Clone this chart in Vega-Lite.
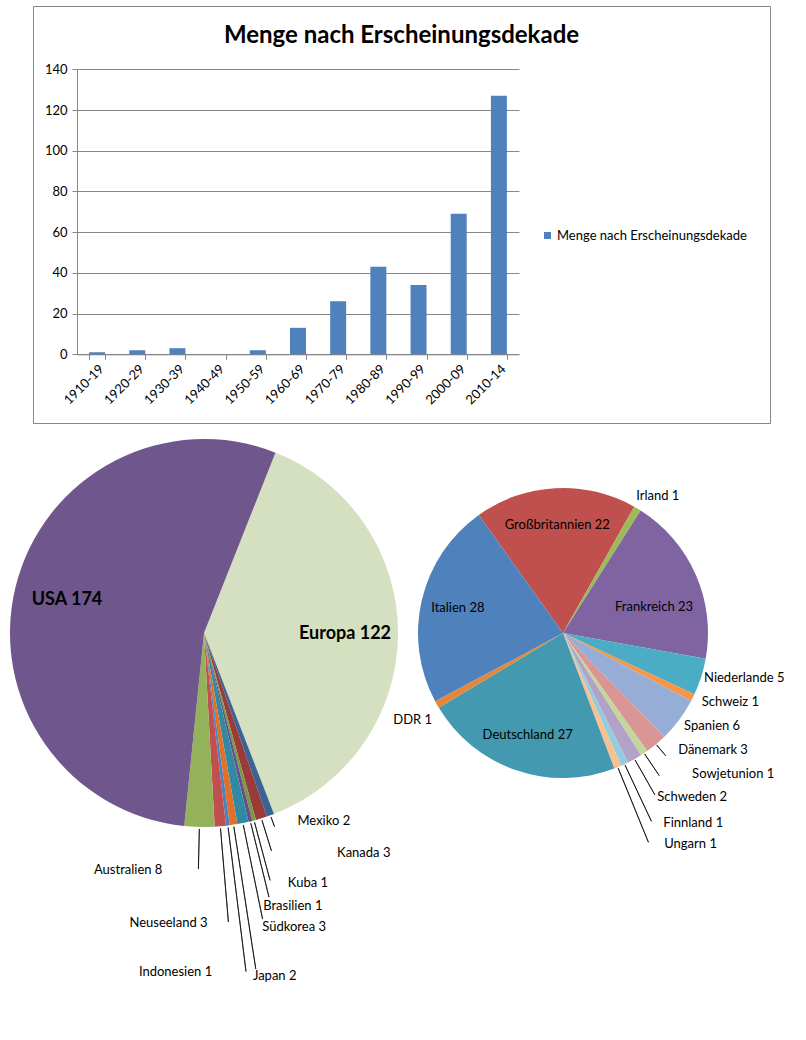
{
  "$schema": "https://vega.github.io/schema/vega-lite/v6.json",
  "padding": {"left": 10, "top": 5, "right": 0, "bottom": 0},
  "background": "white",
  "bounds": "flush",
  "spacing": 10,
  "resolve": {"scale": {"color": "independent", "theta": "independent"}},
  "config": {
    "font": "Lato",
    "view": {"stroke": null},
    "axis": {"labelFont": "Lato", "labelColor": "#000000", "labelFontSize": 12.5, "domainColor": "#868686", "tickColor": "#868686", "gridColor": "#868686", "gridOpacity": 1, "title": null},
    "text": {"font": "Lato", "color": "#000000", "fontSize": 13}
  },
  "vconcat": [
    {
      "width": 737,
      "height": 417,
      "view": {"stroke": "#868686", "strokeWidth": 1},
      "title": {"text": "Menge nach Erscheinungsdekade", "fontSize": 24, "fontWeight": "bold", "font": "Lato", "color": "#000000", "anchor": "middle", "frame": "group", "offset": -42},
      "data": {"values": [
        {"Dekade": "1910-19", "Menge": 1},
        {"Dekade": "1920-29", "Menge": 2},
        {"Dekade": "1930-39", "Menge": 3},
        {"Dekade": "1940-49", "Menge": 0},
        {"Dekade": "1950-59", "Menge": 2},
        {"Dekade": "1960-69", "Menge": 13},
        {"Dekade": "1970-79", "Menge": 26},
        {"Dekade": "1980-89", "Menge": 43},
        {"Dekade": "1990-99", "Menge": 34},
        {"Dekade": "2000-09", "Menge": 69},
        {"Dekade": "2010-14", "Menge": 127}
      ]},
      "mark": {"type": "bar"},
      "encoding": {
        "x": {"field": "Dekade", "type": "nominal", "sort": null,
          "scale": {"range": [44, 486], "paddingInner": 0.602, "paddingOuter": 0.301},
          "axis": {"orient": "bottom", "offset": -68.7, "labelAngle": -45, "tickBand": "extent", "tickSize": 5, "grid": false, "labelPadding": 3, "labelFontSize": 13}},
        "y": {"field": "Menge", "type": "quantitative",
          "scale": {"domain": [0, 140], "range": [348.3, 63.3], "nice": false},
          "axis": {"orient": "left", "offset": -44, "values": [0, 20, 40, 60, 80, 100, 120, 140], "grid": true, "tickSize": 5, "labelPadding": 5, "labelFontSize": 13}},
        "color": {"datum": "Menge nach Erscheinungsdekade", "type": "nominal",
          "scale": {"range": ["#4F81BD"]},
          "legend": {"orient": "none", "legendX": 508, "legendY": 223, "title": null, "symbolType": "square", "symbolSize": 49, "labelFontSize": 13, "labelFont": "Lato", "labelColor": "#000000", "labelLimit": 400, "padding": 0, "labelOffset": 3}}
      }
    },
    {
      "hconcat": [
        {
          "width": 342,
          "height": 400,
          "data": {"values": [
            {"Land": "Europa", "Anzahl": 122},
            {"Land": "Mexiko", "Anzahl": 2},
            {"Land": "Kanada", "Anzahl": 3},
            {"Land": "Kuba", "Anzahl": 1},
            {"Land": "Brasilien", "Anzahl": 1},
            {"Land": "Südkorea", "Anzahl": 3},
            {"Land": "Japan", "Anzahl": 2},
            {"Land": "Indonesien", "Anzahl": 1},
            {"Land": "Neuseeland", "Anzahl": 3},
            {"Land": "Australien", "Anzahl": 8},
            {"Land": "USA", "Anzahl": 174}
          ]},
          "transform": [
            {"window": [{"op": "row_number", "as": "nr"}]},
            {"stack": "Anzahl", "groupby": [], "sort": [{"field": "nr", "order": "ascending"}], "as": ["s0", "s1"]},
            {"calculate": "(datum.s0 + datum.s1) / 2", "as": "mitte"},
            {"calculate": "datum.mitte + 0.02", "as": "mitte2"},
            {"calculate": "datum.Land + ' ' + datum.Anzahl", "as": "Label"}
          ],
          "layer": [
            {"mark": {"type": "arc", "outerRadius": 194},
             "encoding": {
               "theta": {"field": "Anzahl", "type": "quantitative", "stack": true, "scale": {"range": [0.377, 6.6602], "zero": true, "nice": false}},
               "order": {"field": "nr", "type": "quantitative"},
               "color": {"field": "Land", "type": "nominal", "legend": null,
               "scale": {"domain": ["Europa", "Mexiko", "Kanada", "Kuba", "Brasilien", "Südkorea", "Japan", "Indonesien", "Neuseeland", "Australien", "USA"],
                         "range": ["#D4E0BF", "#3B6496", "#993B39", "#7A9A3F", "#654F8A", "#328AA2", "#E07128", "#4F81BD", "#C0504D", "#93B25A", "#6F568C"]}}}},
            {"transform": [{"filter": {"field": "Land", "equal": "Mexiko"}}],
             "mark": {"type": "arc", "innerRadius": 196, "outerRadius": 206, "filled": false, "color": "#000000", "strokeWidth": 0.7},
             "encoding": {"theta": {"field": "mitte", "type": "quantitative", "stack": null}, "theta2": {"field": "mitte2"}}},
            {"transform": [{"filter": {"field": "Land", "equal": "Kanada"}}],
             "mark": {"type": "arc", "innerRadius": 196, "outerRadius": 228, "filled": false, "color": "#000000", "strokeWidth": 0.7},
             "encoding": {"theta": {"field": "mitte", "type": "quantitative", "stack": null}, "theta2": {"field": "mitte2"}}},
            {"transform": [{"filter": {"field": "Land", "equal": "Kuba"}}],
             "mark": {"type": "arc", "innerRadius": 196, "outerRadius": 256, "filled": false, "color": "#000000", "strokeWidth": 0.7},
             "encoding": {"theta": {"field": "mitte", "type": "quantitative", "stack": null}, "theta2": {"field": "mitte2"}}},
            {"transform": [{"filter": {"field": "Land", "equal": "Brasilien"}}],
             "mark": {"type": "arc", "innerRadius": 196, "outerRadius": 272, "filled": false, "color": "#000000", "strokeWidth": 0.7},
             "encoding": {"theta": {"field": "mitte", "type": "quantitative", "stack": null}, "theta2": {"field": "mitte2"}}},
            {"transform": [{"filter": {"field": "Land", "equal": "Südkorea"}}],
             "mark": {"type": "arc", "innerRadius": 196, "outerRadius": 292, "filled": false, "color": "#000000", "strokeWidth": 0.7},
             "encoding": {"theta": {"field": "mitte", "type": "quantitative", "stack": null}, "theta2": {"field": "mitte2"}}},
            {"transform": [{"filter": {"field": "Land", "equal": "Japan"}}],
             "mark": {"type": "arc", "innerRadius": 196, "outerRadius": 340, "filled": false, "color": "#000000", "strokeWidth": 0.7},
             "encoding": {"theta": {"field": "mitte", "type": "quantitative", "stack": null}, "theta2": {"field": "mitte2"}}},
            {"transform": [{"filter": {"field": "Land", "equal": "Indonesien"}}],
             "mark": {"type": "arc", "innerRadius": 196, "outerRadius": 341, "filled": false, "color": "#000000", "strokeWidth": 0.7},
             "encoding": {"theta": {"field": "mitte", "type": "quantitative", "stack": null}, "theta2": {"field": "mitte2"}}},
            {"transform": [{"filter": {"field": "Land", "equal": "Neuseeland"}}],
             "mark": {"type": "arc", "innerRadius": 196, "outerRadius": 290, "filled": false, "color": "#000000", "strokeWidth": 0.7},
             "encoding": {"theta": {"field": "mitte", "type": "quantitative", "stack": null}, "theta2": {"field": "mitte2"}}},
            {"transform": [{"filter": {"field": "Land", "equal": "Australien"}}],
             "mark": {"type": "arc", "innerRadius": 196, "outerRadius": 236, "filled": false, "color": "#000000", "strokeWidth": 0.7},
             "encoding": {"theta": {"field": "mitte", "type": "quantitative", "stack": null}, "theta2": {"field": "mitte2"}}},
            {"transform": [{"filter": {"field": "Land", "oneOf": ["USA", "Europa"]}}],
             "mark": {"type": "text", "radius": 141, "fontSize": 18, "fontWeight": "bold"},
             "encoding": {"theta": {"field": "mitte", "type": "quantitative", "stack": null}, "text": {"field": "Label"}}},
            {"transform": [{"filter": {"field": "Land", "equal": "Mexiko"}}],
             "mark": {"type": "text", "radius": 200, "align": "left", "dx": 25},
             "encoding": {"theta": {"field": "mitte", "type": "quantitative", "stack": null}, "text": {"field": "Label"}}},
            {"transform": [{"filter": {"field": "Land", "equal": "Kanada"}}],
             "mark": {"type": "text", "radius": 230, "align": "left", "dx": 65},
             "encoding": {"theta": {"field": "mitte", "type": "quantitative", "stack": null}, "text": {"field": "Label"}}},
            {"transform": [{"filter": {"field": "Land", "equal": "Kuba"}}],
             "mark": {"type": "text", "radius": 259, "align": "left", "dx": 17},
             "encoding": {"theta": {"field": "mitte", "type": "quantitative", "stack": null}, "text": {"field": "Label"}}},
            {"transform": [{"filter": {"field": "Land", "equal": "Brasilien"}}],
             "mark": {"type": "text", "radius": 281, "align": "left", "dx": -8},
             "encoding": {"theta": {"field": "mitte", "type": "quantitative", "stack": null}, "text": {"field": "Label"}}},
            {"transform": [{"filter": {"field": "Land", "equal": "Südkorea"}}],
             "mark": {"type": "text", "radius": 300, "align": "left", "dx": -2},
             "encoding": {"theta": {"field": "mitte", "type": "quantitative", "stack": null}, "text": {"field": "Label"}}},
            {"transform": [{"filter": {"field": "Land", "equal": "Japan"}}],
             "mark": {"type": "text", "radius": 347, "align": "left", "dx": -4},
             "encoding": {"theta": {"field": "mitte", "type": "quantitative", "stack": null}, "text": {"field": "Label"}}},
            {"transform": [{"filter": {"field": "Land", "equal": "Indonesien"}}],
             "mark": {"type": "text", "radius": 342, "align": "right", "dx": -34},
             "encoding": {"theta": {"field": "mitte", "type": "quantitative", "stack": null}, "text": {"field": "Label"}}},
            {"transform": [{"filter": {"field": "Land", "equal": "Neuseeland"}}],
             "mark": {"type": "text", "radius": 291, "align": "right", "dx": -21},
             "encoding": {"theta": {"field": "mitte", "type": "quantitative", "stack": null}, "text": {"field": "Label"}}},
            {"transform": [{"filter": {"field": "Land", "equal": "Australien"}}],
             "mark": {"type": "text", "radius": 237, "align": "right", "dx": -36},
             "encoding": {"theta": {"field": "mitte", "type": "quantitative", "stack": null}, "text": {"field": "Label"}}}
          ]
        },
        {
          "width": 376,
          "height": 400,
          "data": {"values": [
            {"Land": "Großbritannien", "Anzahl": 22},
            {"Land": "Irland", "Anzahl": 1},
            {"Land": "Frankreich", "Anzahl": 23},
            {"Land": "Niederlande", "Anzahl": 5},
            {"Land": "Schweiz", "Anzahl": 1},
            {"Land": "Spanien", "Anzahl": 6},
            {"Land": "Dänemark", "Anzahl": 3},
            {"Land": "Sowjetunion", "Anzahl": 1},
            {"Land": "Schweden", "Anzahl": 2},
            {"Land": "Finnland", "Anzahl": 1},
            {"Land": "Ungarn", "Anzahl": 1},
            {"Land": "Deutschland", "Anzahl": 27},
            {"Land": "DDR", "Anzahl": 1},
            {"Land": "Italien", "Anzahl": 28}
          ]},
          "transform": [
            {"window": [{"op": "row_number", "as": "nr"}]},
            {"stack": "Anzahl", "groupby": [], "sort": [{"field": "nr", "order": "ascending"}], "as": ["s0", "s1"]},
            {"calculate": "(datum.s0 + datum.s1) / 2", "as": "mitte"},
            {"calculate": "datum.mitte + 0.01", "as": "mitte2"},
            {"calculate": "datum.Land + ' ' + datum.Anzahl", "as": "Label"}
          ],
          "layer": [
            {"mark": {"type": "arc", "outerRadius": 145},
             "encoding": {
               "theta": {"field": "Anzahl", "type": "quantitative", "stack": true, "scale": {"range": [-0.6196, 5.6636], "zero": true, "nice": false}},
               "order": {"field": "nr", "type": "quantitative"},
               "color": {"field": "Land", "type": "nominal", "legend": null,
               "scale": {"domain": ["Großbritannien", "Irland", "Frankreich", "Niederlande", "Schweiz", "Spanien", "Dänemark", "Sowjetunion", "Schweden", "Finnland", "Ungarn", "Deutschland", "DDR", "Italien"],
                         "range": ["#C0504D", "#9BBB59", "#8064A2", "#4BACC6", "#F79646", "#96AED5", "#D99694", "#C3D69B", "#B3A2C7", "#93CDDD", "#FAC090", "#4299B0", "#E4873A", "#4F81BD"]}}}},
            {"transform": [{"filter": {"field": "Land", "equal": "Dänemark"}}],
             "mark": {"type": "arc", "innerRadius": 146, "outerRadius": 160, "filled": false, "color": "#000000", "strokeWidth": 0.7},
             "encoding": {"theta": {"field": "mitte", "type": "quantitative", "stack": null}, "theta2": {"field": "mitte2"}}},
            {"transform": [{"filter": {"field": "Land", "equal": "Sowjetunion"}}],
             "mark": {"type": "arc", "innerRadius": 146, "outerRadius": 172, "filled": false, "color": "#000000", "strokeWidth": 0.7},
             "encoding": {"theta": {"field": "mitte", "type": "quantitative", "stack": null}, "theta2": {"field": "mitte2"}}},
            {"transform": [{"filter": {"field": "Land", "equal": "Schweden"}}],
             "mark": {"type": "arc", "innerRadius": 146, "outerRadius": 186, "filled": false, "color": "#000000", "strokeWidth": 0.7},
             "encoding": {"theta": {"field": "mitte", "type": "quantitative", "stack": null}, "theta2": {"field": "mitte2"}}},
            {"transform": [{"filter": {"field": "Land", "equal": "Finnland"}}],
             "mark": {"type": "arc", "innerRadius": 146, "outerRadius": 208, "filled": false, "color": "#000000", "strokeWidth": 0.7},
             "encoding": {"theta": {"field": "mitte", "type": "quantitative", "stack": null}, "theta2": {"field": "mitte2"}}},
            {"transform": [{"filter": {"field": "Land", "equal": "Ungarn"}}],
             "mark": {"type": "arc", "innerRadius": 146, "outerRadius": 226, "filled": false, "color": "#000000", "strokeWidth": 0.7},
             "encoding": {"theta": {"field": "mitte", "type": "quantitative", "stack": null}, "theta2": {"field": "mitte2"}}},
            {"transform": [{"filter": {"field": "Land", "oneOf": ["Italien", "Großbritannien", "Deutschland"]}}],
             "mark": {"type": "text", "radius": 108},
             "encoding": {"theta": {"field": "mitte", "type": "quantitative", "stack": null}, "text": {"field": "Label"}}},
            {"transform": [{"filter": {"field": "Land", "equal": "Frankreich"}}],
             "mark": {"type": "text", "radius": 94, "dx": 5, "dy": 12},
             "encoding": {"theta": {"field": "mitte", "type": "quantitative", "stack": null}, "text": {"field": "Label"}}},
            {"transform": [{"filter": {"field": "Land", "equal": "Irland"}}],
             "mark": {"type": "text", "radius": 160, "align": "left", "dx": -9},
             "encoding": {"theta": {"field": "mitte", "type": "quantitative", "stack": null}, "text": {"field": "Label"}}},
            {"transform": [{"filter": {"field": "Land", "equal": "Niederlande"}}],
             "mark": {"type": "text", "radius": 148, "align": "left"},
             "encoding": {"theta": {"field": "mitte", "type": "quantitative", "stack": null}, "text": {"field": "Label"}}},
            {"transform": [{"filter": {"field": "Land", "equal": "Schweiz"}}],
             "mark": {"type": "text", "radius": 155, "align": "left"},
             "encoding": {"theta": {"field": "mitte", "type": "quantitative", "stack": null}, "text": {"field": "Label"}}},
            {"transform": [{"filter": {"field": "Land", "equal": "Spanien"}}],
             "mark": {"type": "text", "radius": 155, "align": "left", "dx": -3},
             "encoding": {"theta": {"field": "mitte", "type": "quantitative", "stack": null}, "text": {"field": "Label"}}},
            {"transform": [{"filter": {"field": "Land", "equal": "Dänemark"}}],
             "mark": {"type": "text", "radius": 153, "align": "left", "dx": 17},
             "encoding": {"theta": {"field": "mitte", "type": "quantitative", "stack": null}, "text": {"field": "Label"}}},
            {"transform": [{"filter": {"field": "Land", "equal": "Sowjetunion"}}],
             "mark": {"type": "text", "radius": 170, "align": "left", "dx": 34},
             "encoding": {"theta": {"field": "mitte", "type": "quantitative", "stack": null}, "text": {"field": "Label"}}},
            {"transform": [{"filter": {"field": "Land", "equal": "Schweden"}}],
             "mark": {"type": "text", "radius": 189, "align": "left", "dx": 1},
             "encoding": {"theta": {"field": "mitte", "type": "quantitative", "stack": null}, "text": {"field": "Label"}}},
            {"transform": [{"filter": {"field": "Land", "equal": "Finnland"}}],
             "mark": {"type": "text", "radius": 210, "align": "left", "dx": 11},
             "encoding": {"theta": {"field": "mitte", "type": "quantitative", "stack": null}, "text": {"field": "Label"}}},
            {"transform": [{"filter": {"field": "Land", "equal": "Ungarn"}}],
             "mark": {"type": "text", "radius": 228, "align": "left", "dx": 15},
             "encoding": {"theta": {"field": "mitte", "type": "quantitative", "stack": null}, "text": {"field": "Label"}}},
            {"transform": [{"filter": {"field": "Land", "equal": "DDR"}}],
             "mark": {"type": "text", "radius": 177, "align": "right", "dx": 23},
             "encoding": {"theta": {"field": "mitte", "type": "quantitative", "stack": null}, "text": {"field": "Label"}}}
          ]
        }
      ],
      "spacing": 0,
      "bounds": "flush",
      "resolve": {"scale": {"color": "independent", "theta": "independent"}}
    }
  ]
}
